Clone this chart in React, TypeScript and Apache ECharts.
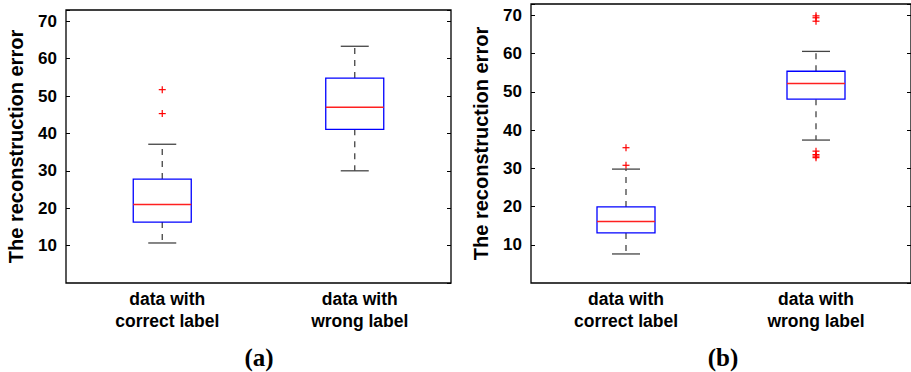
import React, { useEffect, useRef } from "react";
import * as echarts from "echarts";

const categories = ["data with\ncorrect label", "data with\nwrong label"];
const yTicks = [10, 20, 30, 40, 50, 60, 70];
// [categoryIndex, lowerWhisker, q1, median, q3, upperWhisker]
const boxesA = [
  [0, 10.7, 16.3, 21.0, 27.8, 37.1],
  [1, 30.0, 41.1, 47.0, 54.8, 63.3],
];
const outliersA = [
  [0, 51.7],
  [0, 45.3],
];
const boxesB = [
  [0, 7.6, 13.1, 16.1, 19.9, 29.8],
  [1, 37.4, 48.1, 52.2, 55.4, 60.6],
];
const outliersB = [
  [0, 35.4],
  [0, 30.8],
  [1, 69.9],
  [1, 69.4],
  [1, 68.5],
  [1, 34.5],
  [1, 33.6],
  [1, 33.2],
  [1, 32.8],
];
const yTitle = "The reconstruction error";
const panelLabels = ["(a)", "(b)"];

const FONT = "'Liberation Sans', Arial, Helvetica, sans-serif";

function boxRender(params: any, api: any) {
  const c = api.value(0);
  const lo = api.coord([c, api.value(1)]);
  const q1 = api.coord([c, api.value(2)]);
  const med = api.coord([c, api.value(3)]);
  const q3 = api.coord([c, api.value(4)]);
  const hi = api.coord([c, api.value(5)]);
  const x = lo[0];
  const hw = 29;
  const cw = 14;
  const wStyle = { stroke: "#444", lineWidth: 1.3, lineDash: [6, 6] };
  const cStyle = { stroke: "#444", lineWidth: 1.3 };
  return {
    type: "group",
    children: [
      { type: "line", shape: { x1: x, y1: q3[1], x2: x, y2: hi[1] }, style: wStyle },
      { type: "line", shape: { x1: x, y1: q1[1], x2: x, y2: lo[1] }, style: wStyle },
      { type: "line", shape: { x1: x - cw, y1: hi[1], x2: x + cw, y2: hi[1] }, style: cStyle },
      { type: "line", shape: { x1: x - cw, y1: lo[1], x2: x + cw, y2: lo[1] }, style: cStyle },
      {
        type: "rect",
        shape: { x: x - hw, y: q3[1], width: hw * 2, height: q1[1] - q3[1] },
        style: { fill: "#fff", stroke: "#0000ff", lineWidth: 1.3 },
      },
      {
        type: "line",
        shape: { x1: x - hw, y1: med[1], x2: x + hw, y2: med[1] },
        style: { stroke: "#ff2020", lineWidth: 1.5 },
      },
    ],
  };
}

function outlierRender(params: any, api: any) {
  const p = api.coord([api.value(0), api.value(1)]);
  const s = 3.5;
  const st = { stroke: "#ff0000", lineWidth: 1.2 };
  return {
    type: "group",
    children: [
      { type: "line", shape: { x1: p[0] - s, y1: p[1], x2: p[0] + s, y2: p[1] }, style: st },
      { type: "line", shape: { x1: p[0], y1: p[1] - s, x2: p[0], y2: p[1] + s }, style: st },
    ],
  };
}

function makeX(gi: number, shift: number) {
  return {
    type: "category",
    gridIndex: gi,
    data: categories,
    boundaryGap: true,
    axisLine: { show: false },
    axisTick: { show: false },
    splitLine: { show: false },
    axisLabel: {
      interval: 0,
      margin: 5,
      fontFamily: FONT,
      fontWeight: "bold",
      fontSize: 17.5,
      lineHeight: 22,
      color: "#000",
      padding: [0, 0, 0, shift],
    },
  };
}

function makeY(gi: number, right: boolean) {
  return {
    type: "value",
    gridIndex: gi,
    position: right ? "right" : "left",
    min: 0,
    max: 73,
    interval: 10,
    axisLine: { show: false },
    splitLine: { show: false },
    axisTick: { show: true, inside: true, length: 4, lineStyle: { color: "#000", width: 1 } },
    axisLabel: right
      ? { show: false }
      : {
          show: true,
          margin: 9,
          fontFamily: FONT,
          fontWeight: "bold",
          fontSize: 17,
          color: "#000",
          showMinLabel: false,
          formatter: (v: number) => (yTicks.indexOf(v) >= 0 ? String(v) : ""),
        },
    name: right ? "" : yTitle,
    nameLocation: "middle",
    nameGap: 40,
    nameTextStyle: {
      fontFamily: FONT,
      fontWeight: "bold",
      fontSize: 20,
      color: "#000",
    },
  };
}

export default function App() {
  const ref = useRef<HTMLDivElement>(null);
  useEffect(() => {
    if (!ref.current) return;
    const chart = echarts.init(ref.current, undefined, { renderer: "svg" });
    const gridStyle = {
      show: true,
      borderColor: "#000",
      borderWidth: 1.3,
      backgroundColor: "transparent",
      containLabel: false,
    };
    const panelFont = "bold 25px 'Liberation Serif', 'Times New Roman', serif";
    chart.setOption({
      animation: false,
      backgroundColor: "#fff",
      grid: [
        { ...gridStyle, left: 66, top: 10, width: 385, height: 273 },
        { ...gridStyle, left: 531, top: 4, width: 381, height: 279 },
      ],
      xAxis: [makeX(0, 10), makeX(1, 0)],
      yAxis: [makeY(0, false), makeY(0, true), makeY(1, false), makeY(1, true)],
      series: [
        {
          type: "custom",
          xAxisIndex: 0,
          yAxisIndex: 0,
          renderItem: boxRender,
          data: boxesA,
          encode: { x: 0, y: [1, 2, 3, 4, 5] },
          z: 2,
        },
        {
          type: "custom",
          xAxisIndex: 0,
          yAxisIndex: 0,
          renderItem: outlierRender,
          data: outliersA,
          encode: { x: 0, y: 1 },
          z: 3,
        },
        {
          type: "custom",
          xAxisIndex: 1,
          yAxisIndex: 2,
          renderItem: boxRender,
          data: boxesB,
          encode: { x: 0, y: [1, 2, 3, 4, 5] },
          z: 2,
        },
        {
          type: "custom",
          xAxisIndex: 1,
          yAxisIndex: 2,
          renderItem: outlierRender,
          data: outliersB,
          encode: { x: 0, y: 1 },
          z: 3,
        },
      ],
      graphic: [
        {
          type: "text",
          x: 259,
          y: 357,
          style: {
            text: panelLabels[0],
            font: panelFont,
            fill: "#000",
            align: "center",
            verticalAlign: "middle",
          },
        },
        {
          type: "text",
          x: 723,
          y: 357,
          style: {
            text: panelLabels[1],
            font: panelFont,
            fill: "#000",
            align: "center",
            verticalAlign: "middle",
          },
        },
      ],
    });
    return () => chart.dispose();
  }, []);
  return (
    <div
      ref={ref}
      style={{ position: "fixed", left: 0, top: 0, width: 911, height: 372 }}
    />
  );
}
